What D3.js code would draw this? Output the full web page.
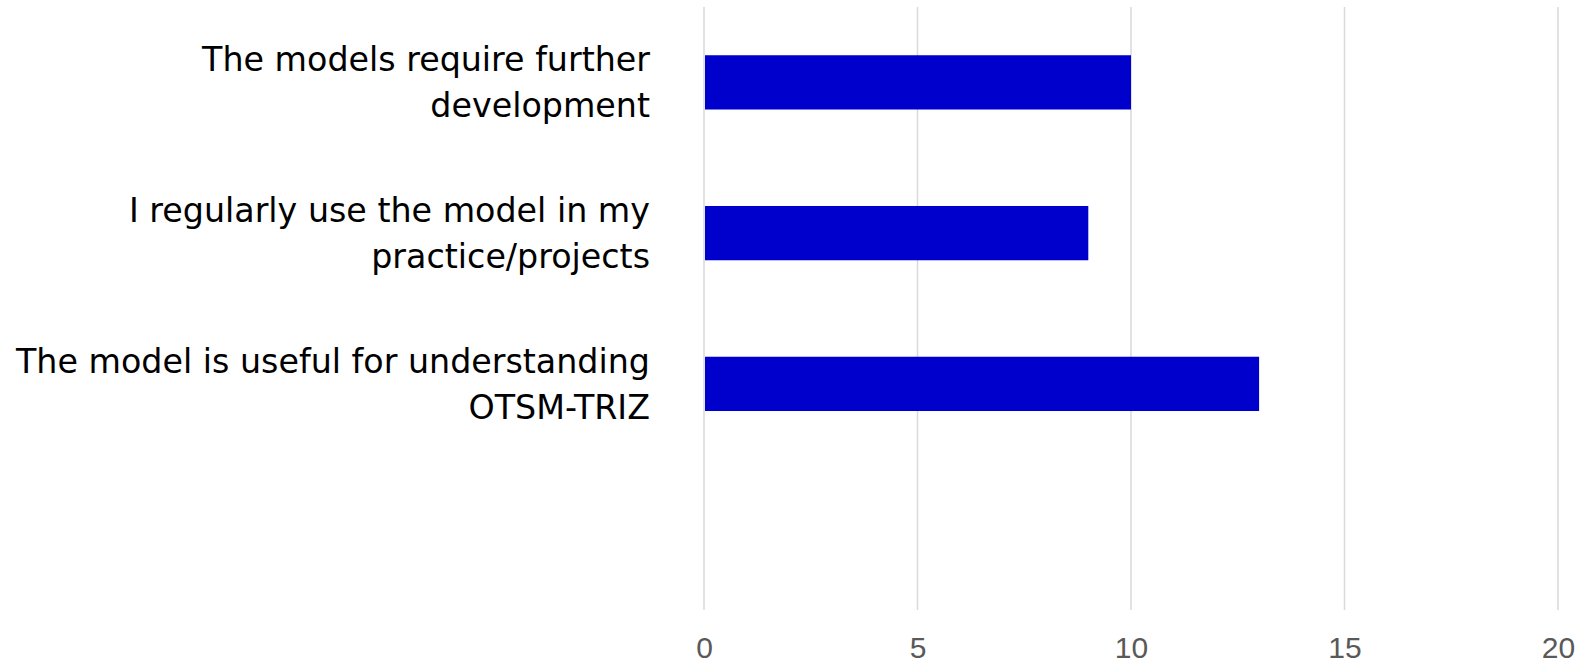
<!DOCTYPE html>
<html>
<head>
<meta charset="utf-8">
<script src="https://cdn.jsdelivr.net/npm/d3@7"></script>
<style>
  body { margin: 0; background: #fff; }
</style>
</head>
<body>
<div id="vis-container"></div>
<script>
// chart data
const categories = [
  ["The models require further", "development"],
  ["I regularly use the model in my", "practice/projects"],
  ["The model is useful for understanding", "OTSM-TRIZ"],
  [""]
];
const values = [10, 9, 13, null];
const xTicks = [0, 5, 10, 15, 20];

let margin = {top: 7, right: 28, bottom: 53, left: 704},
  width = 1586 - margin.left - margin.right,
  height = 663 - margin.top - margin.bottom;

let svg = d3.select("#vis-container")
            .append("svg")
            .attr("width", width + margin.left + margin.right)
            .attr("height", height + margin.top + margin.bottom)
            .append("g")
            .attr("transform", "translate(" + margin.left + "," + margin.top + ")");

let x = d3.scaleLinear()
  .domain([0, 20])
  .range([0, width]);

let y = d3.scaleBand()
  .domain(d3.range(categories.length))
  .range([0, height])
  .paddingInner(0.64)
  .paddingOuter(0.32);

// vertical gridlines
svg.selectAll(".grid")
  .data(xTicks)
  .enter()
  .append("line")
    .attr("x1", d => x(d))
    .attr("x2", d => x(d))
    .attr("y1", 0)
    .attr("y2", height)
    .attr("stroke", "#d9d9d9")
    .attr("stroke-width", 1.5);

// x axis labels
let xAxis = svg.append("g")
  .attr("transform", `translate(0,${height})`)
  .call(d3.axisBottom(x).tickValues(xTicks).tickSize(0).tickPadding(27));
xAxis.select(".domain").remove();
xAxis.selectAll("text")
  .attr("font-family", "'Liberation Sans', Arial, sans-serif")
  .attr("font-size", "30px")
  .attr("fill", "#595959");

// bars
svg.selectAll(".bar")
  .data(values)
  .enter()
  .filter(d => d != null)
  .append("rect")
    .attr("x", x(0) + 1)
    .attr("y", (d, i) => y(i))
    .attr("width", d => x(d) - x(0) - 1)
    .attr("height", y.bandwidth())
    .attr("fill", "#0000cc");

// category labels, two lines each
let labels = svg.selectAll(".cat")
  .data(categories)
  .enter()
  .append("text")
    .attr("text-anchor", "end")
    .attr("font-family", "'DejaVu Sans', sans-serif")
    .attr("font-size", "33.3px")
    .attr("fill", "#000");

labels.selectAll("tspan")
  .data((d, i) => d.map((line, j) => ({line: line, j: j, i: i, n: d.length})))
  .enter()
  .append("tspan")
    .attr("x", -54)
    .attr("y", d => y(d.i) + y.bandwidth() / 2 + (d.j - (d.n - 1) / 2) * 46)
    .attr("dy", "0.35em")
    .text(d => d.line);
</script>
</body>
</html>
